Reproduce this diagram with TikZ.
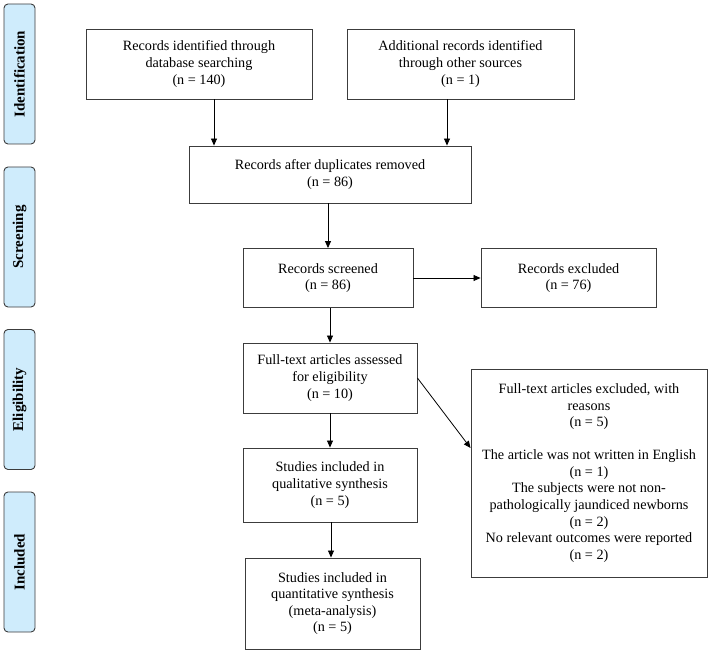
\documentclass[tikz,border=0pt]{standalone}
\usepackage{fontspec}
\setmainfont{Liberation Serif}
\usetikzlibrary{arrows.meta}
\definecolor{sidefill}{RGB}{207,236,252}
\definecolor{edge}{RGB}{60,60,60}
\begin{document}
\begin{tikzpicture}[x=1pt,y=-1pt,
  box/.style={draw=edge,line width=0.9pt,rectangle,align=center,inner sep=2pt,
    font=\fontsize{14.2}{16.6}\selectfont},
  side/.style={draw=edge,line width=0.9pt,fill=sidefill,rounded corners=4pt,
    minimum width=140pt,minimum height=31pt,rotate=90,
    font=\fontsize{15}{17}\selectfont\bfseries},
  arr/.style={draw=black,line width=0.8pt,-{Triangle[length=7pt,width=6pt]}}]
\useasboundingbox (0,0) rectangle (712,655);
% side labels
\node[side] (sid) at (19.5,74) {Identification};
\node[side] (sscr) at (19.5,237) {Screening};
\node[side] (selig) at (19.5,399.5) {Eligibility};
\node[side] (sinc) at (19.5,562) {Included};
% boxes
\node[box,minimum width=226pt,minimum height=70pt] (b1) at (199,64)
  {Records identified through\\database searching\\(n = 140)};
\node[box,minimum width=227pt,minimum height=70pt] (b2) at (460.5,64)
  {Additional records identified\\through other sources\\(n = 1)};
\node[box,minimum width=282pt,minimum height=57pt] (b3) at (330,174.5)
  {Records after duplicates removed\\(n = 86)};
\node[box,minimum width=170pt,minimum height=59pt] (scr) at (328,278)
  {Records screened\\(n = 86)};
\node[box,minimum width=175pt,minimum height=59pt] (exc) at (568.5,278)
  {Records excluded\\(n = 76)};
\node[box,minimum width=174pt,minimum height=70pt] (ft) at (330,378)
  {Full-text articles assessed\\for eligibility\\(n = 10)};
\node[box,minimum width=236pt,minimum height=208pt] (fte) at (589,473)
  {Full-text articles excluded, with\\reasons\\(n = 5)\\[16.4pt]
   The article was not written in English\\(n = 1)\\The subjects were not non-\\
   pathologically jaundiced newborns\\(n = 2)\\No relevant outcomes were reported\\(n = 2)};
\node[box,minimum width=174pt,minimum height=74pt] (qual) at (330,485)
  {Studies included in\\qualitative synthesis\\(n = 5)};
\node[box,minimum width=175pt,minimum height=91pt] (quant) at (332.5,603.5)
  {Studies included in\\quantitative synthesis\\(meta-analysis)\\(n = 5)};
% arrows
\draw[arr] ([xshift=15pt]b1.south) -- ([xshift=15pt]b1.south |- b3.north);
\draw[arr] ([xshift=-13.5pt]b2.south) -- ([xshift=-13.5pt]b2.south |- b3.north);
\draw[arr] (b3.south -| scr.north) -- (scr.north);
\draw[arr] (scr.east) -- (exc.west);
\draw[arr] ([xshift=2pt]scr.south) -- ([xshift=2pt]scr.south |- ft.north);
\draw[arr] (ft.east) -- ([yshift=25pt]fte.west);
\draw[arr] (ft.south) -- (qual.north);
\draw[arr] ([xshift=1pt]qual.south) -- ([xshift=1pt]qual.south |- quant.north);
\end{tikzpicture}
\end{document}
